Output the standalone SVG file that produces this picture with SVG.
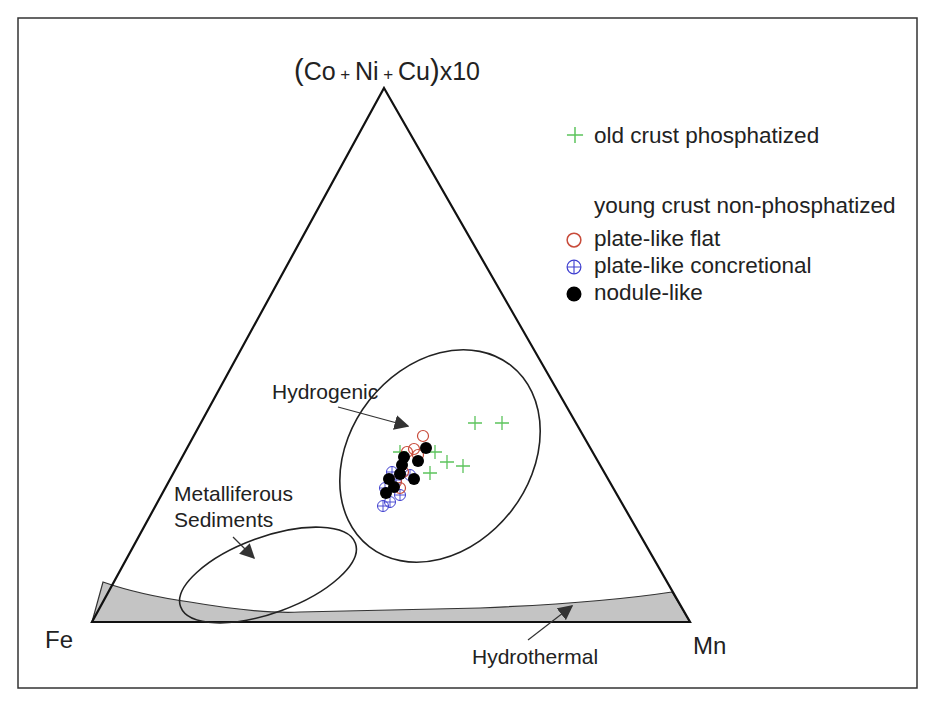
<svg xmlns="http://www.w3.org/2000/svg" width="935" height="702" viewBox="0 0 935 702">
<defs>
<marker id="ah" viewBox="0 0 10 10" refX="9" refY="5" markerWidth="15" markerHeight="15" markerUnits="userSpaceOnUse" orient="auto"><path d="M0,0 L10,5 L0,10 z" fill="#333"/></marker>
<g id="gp"><path d="M-7,0H7M0,-7V7" stroke="#5cc45c" stroke-width="1.3" fill="none"/></g>
<g id="rc"><circle r="5.5" fill="none" stroke="#c84b3a" stroke-width="1.2"/></g>
<g id="bc"><circle r="5.5" fill="none" stroke="#4040d0" stroke-width="1"/><path d="M-5.5,0H5.5M0,-5.5V5.5" stroke="#4040d0" stroke-width="0.9"/></g>
<g id="bd"><circle r="6" fill="#000"/></g>
</defs>
<style>
text{font-family:"Liberation Sans",Arial,sans-serif;fill:#222}
.l{font-size:21px}
.g{font-size:22.5px}
.e{fill:none;stroke:#222;stroke-width:1.6}
</style>
<rect width="935" height="702" fill="#fff"/>
<rect x="18" y="18" width="899" height="670" fill="none" stroke="#333" stroke-width="1.5"/>
<g id="hydrothermal">
<path d="M103,582 Q140,595 190,602 Q260,614 300,612 L480,608 Q600,603 672,592 L690,622 L92,622 Z" fill="#c4c4c4" stroke="#333" stroke-width="1.2"/>
</g>
<g id="triangle"><path d="M384,88 L690,622 L92,622 Z" fill="none" stroke="#111" stroke-width="2.2"/></g>
<g id="metalliferous"><ellipse cx="268" cy="575" rx="93" ry="38" transform="rotate(-20 268 575)" fill="#fff" class="e"/></g>
<g id="hydrogenic"><ellipse cx="440" cy="456" rx="115" ry="90" transform="rotate(-52 440 456)" fill="#fff" class="e"/></g>
<g id="connectors" stroke="#333" stroke-width="1.2" fill="none" marker-end="url(#ah)">
<line x1="338" y1="407" x2="408" y2="426"/>
<line x1="233" y1="537" x2="254" y2="558"/>
<line x1="528" y1="640" x2="572" y2="606"/>
</g>
<g id="data">
<use href="#gp" x="475" y="423"/><use href="#gp" x="502" y="423"/><use href="#gp" x="435" y="452"/><use href="#gp" x="447" y="462"/><use href="#gp" x="463" y="466"/><use href="#gp" x="430" y="473"/><use href="#gp" x="400" y="452"/>
<use href="#bc" x="383" y="506"/><use href="#bc" x="390" y="502"/><use href="#bc" x="385" y="488"/><use href="#bc" x="400" y="495"/><use href="#bc" x="410" y="475"/><use href="#bc" x="392" y="472"/><use href="#bc" x="396" y="480"/>
<use href="#rc" x="423" y="436"/><use href="#rc" x="414" y="449"/><use href="#rc" x="407" y="452"/><use href="#rc" x="403" y="472"/><use href="#rc" x="396" y="482"/><use href="#rc" x="400" y="488"/><use href="#rc" x="418" y="455"/>
<use href="#bd" x="426" y="448"/><use href="#bd" x="418" y="461"/><use href="#bd" x="414" y="479"/><use href="#bd" x="404" y="457"/><use href="#bd" x="402" y="465"/><use href="#bd" x="400" y="474"/><use href="#bd" x="389" y="479"/><use href="#bd" x="394" y="487"/><use href="#bd" x="386" y="493"/>
</g>
<g id="labels">
<text x="294" y="80" font-size="25"><tspan font-size="29">(</tspan>Co<tspan font-size="17"> + </tspan>Ni<tspan font-size="17"> + </tspan>Cu<tspan font-size="29">)</tspan>x10</text>
<text x="45" y="648" font-size="24">Fe</text>
<text x="693" y="654" font-size="24">Mn</text>
<text x="272" y="399" class="l">Hydrogenic</text>
<text x="174" y="501" class="l">Metalliferous</text>
<text x="174" y="527" class="l">Sediments</text>
<text x="472" y="664" class="l">Hydrothermal</text>
</g>
<g id="legend">
<use href="#gp" x="575" y="135" transform="translate(575 135) scale(1.15) translate(-575 -135)"/><text x="594" y="143" class="g">old crust phosphatized</text>
<text x="594" y="213" class="g">young crust non-phosphatized</text>
<use href="#rc" x="574" y="240" transform="translate(574 240) scale(1.25) translate(-574 -240)"/><text x="594" y="246" class="g">plate-like flat</text>
<use href="#bc" x="574" y="267" transform="translate(574 267) scale(1.25) translate(-574 -267)"/><text x="594" y="273" class="g">plate-like concretional</text>
<use href="#bd" x="574" y="294" transform="translate(574 294) scale(1.25) translate(-574 -294)"/><text x="594" y="300" class="g">nodule-like</text>
</g>
</svg>
